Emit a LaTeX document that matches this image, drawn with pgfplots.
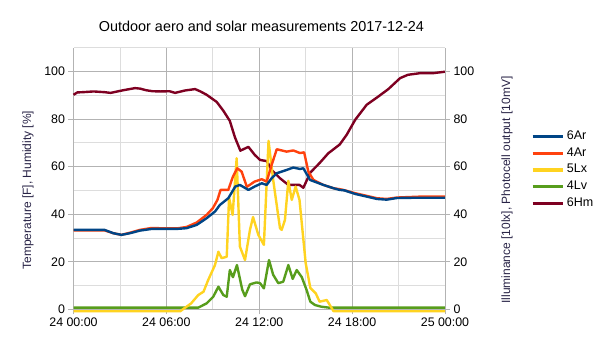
\documentclass[border=0pt]{standalone}
\usepackage{fontspec}
\setmainfont{Liberation Sans}
\usepackage{pgfplots}
\pgfplotsset{compat=1.18}
\definecolor{cAr}{HTML}{004586}
\definecolor{cAr4}{HTML}{FF420E}
\definecolor{cLx}{HTML}{FFD320}
\definecolor{cLv}{HTML}{579D1C}
\definecolor{cHm}{HTML}{7E0021}
\definecolor{gridmaj}{HTML}{B3B3B3}
\definecolor{gridmin}{HTML}{DDDDDD}
\definecolor{labcol}{RGB}{40,35,70}
\begin{document}
\begin{tikzpicture}
\path[use as bounding box] (0,0) rectangle (605pt,340pt);
\begin{axis}[
  at={(73.5pt,30.7pt)}, anchor=south west,
  scale only axis, width=371.5pt, height=261.6pt,
  xmin=0, xmax=24, ymin=0, ymax=110,
  clip=false,
  xtick={0,6,12,18,24},
  xticklabels={24 00:00,24 06:00,24 12:00,24 18:00,25 00:00},
  minor xtick={3,9,15,21},
  ytick={0,20,40,60,80,100},
  minor ytick={10,30,50,70,90,110},
  grid=both,
  major grid style={color=gridmaj, line width=0.8pt},
  minor grid style={color=gridmin, line width=0.8pt},
  axis x line*=bottom, axis y line*=left,
  axis line style={gridmaj, line width=0.8pt},
  tick align=outside, major tick length=5pt, minor tick length=0pt,
  tick style={gridmaj, line width=0.8pt},
  tick label style={font=\fontsize{12.4}{14}\selectfont},
  /pgf/number format/assume math mode=true,
  title={Outdoor aero and solar measurements 2017-12-24},
  title style={at={(axis description cs:0.506,1.058)}, anchor=center, font=\fontsize{14.4}{17}\selectfont},
  ylabel={Temperature [F], Humidity [\%]},
  ylabel style={at={(axis description cs:-0.1225,0.456)}, anchor=center, color=labcol, font=\fontsize{12}{14}\selectfont},
  legend style={at={(axis description cs:1.2307,0.5325)}, anchor=west, draw=none, fill=none, inner sep=0pt,
    font=\fontsize{12.5}{15}\selectfont, row sep=2.7pt, column sep=1.5pt,
    nodes={inner sep=1pt, text height=9pt, text depth=3pt}},
  legend cell align=left,
  reverse legend,
  legend image code/.code={\draw[#1, line width=3.5pt] (0pt,0pt) -- (30pt,0pt);},
  every axis plot/.append style={line width=2.4pt, line join=round, mark=none},
]
\addplot[cHm] coordinates {
(0,90.2) (0.25,91.2) (0.6,91.3) (1.3,91.6) (2.0,91.3) (2.4,91.0) (3.2,92.1) (3.97,93.0)
(4.3,92.8) (4.7,92.1) (5.1,91.7) (5.6,91.6) (6.2,91.7) (6.56,91.0) (7.2,92.0) (7.85,92.6)
(8.2,91.6) (8.6,90.2) (9.25,87.2) (9.68,83.5) (10.1,79.2) (10.43,72.3) (10.78,66.7)
(11.3,68.3) (11.7,65.0) (12.05,62.8) (12.5,62.3) (12.8,58.6) (13.34,55.1) (13.88,52.3)
(14.6,52.3) (14.85,51.1) (15.3,57.5) (15.9,61.5) (16.46,65.6) (17.2,69.3) (17.65,73.4)
(18.2,79.7) (18.94,86.0) (19.7,89.5) (20.34,92.6) (21.1,97.2) (21.6,98.6) (22.4,99.3)
(23.24,99.3) (24,99.9)
};
\addlegendentry{6Hm}
\addplot[cLv] coordinates {
(0,0.7) (8.06,0.7) (8.6,2.5) (9.03,5.3) (9.36,9.5) (9.68,6.0) (9.9,5.3) (10.1,16.5)
(10.3,13.5) (10.56,18.6) (10.9,8.3) (11.08,5.5) (11.4,10.5) (11.83,11.3) (12.05,11.0)
(12.3,8.8) (12.63,20.7) (12.9,14.5) (13.23,11.0) (13.55,11.6) (13.88,18.6) (14.16,12.8)
(14.42,16.5) (14.75,13.5) (15.06,8.1) (15.3,3.2) (15.6,1.8) (16.0,1.1) (16.5,0.7) (24,0.7)
};
\addlegendentry{4Lv}
\addplot[cLx] coordinates {
(0,-0.8) (6.9,-0.8) (7.6,2.5) (8.06,6.0) (8.4,7.4) (8.7,12.3) (9.14,18.6) (9.36,24.2)
(9.57,21.5) (9.9,22.1) (10.05,47.0) (10.28,39.7) (10.54,63.5) (10.75,26.4) (11.08,20.7)
(11.4,33.4) (11.6,38.8) (11.94,31.3) (12.3,27.1) (12.6,70.8) (12.9,54.4) (13.34,34.1)
(13.45,33.4) (13.66,37.6) (13.88,54.0) (14.1,46.0) (14.35,51.6) (14.6,46.0) (15.0,19.4)
(15.3,9.0) (15.65,6.7) (15.9,3.2) (16.36,3.9) (16.8,-0.8) (24,-0.8)
};
\addlegendentry{5Lx}
\addplot[cAr4] coordinates {
(0,33.2) (2.0,33.2) (2.57,32.0) (3.1,31.3) (3.65,32.2) (4.3,33.4) (5.05,34.2) (6.0,34.0)
(6.67,34.0) (7.3,34.6) (7.96,36.5) (8.6,39.7) (9.0,42.5) (9.3,46.0) (9.5,50.2) (10.0,50.2)
(10.3,55.8) (10.58,59.3) (10.86,57.9) (11.2,51.5) (11.7,53.7) (12.16,54.7) (12.48,53.7)
(12.8,60.7) (13.13,67.3) (13.77,66.3) (14.2,66.8) (14.63,65.7) (14.9,66.0) (15.17,57.9)
(15.5,54.4) (16.14,52.3) (16.8,50.9) (17.2,50.5) (17.43,50.2) (18.2,48.8) (18.94,47.7)
(19.6,46.7) (20.23,46.4) (20.9,47.0) (21.7,47.2) (22.5,47.4) (24,47.4)
};
\addlegendentry{4Ar}
\addplot[cAr] coordinates {
(0,33.4) (2.0,33.4) (2.57,32.0) (3.1,31.3) (3.65,32.0) (4.3,33.1) (5.05,33.8) (6.0,33.8)
(6.67,33.8) (7.3,34.1) (7.96,35.5) (8.6,38.3) (9.14,41.1) (9.46,43.9) (10.0,46.7)
(10.45,51.6) (10.75,52.3) (11.3,50.2) (11.7,51.6) (12.16,53.0) (12.48,52.3) (12.8,55.1)
(13.13,57.2) (13.77,58.6) (14.2,59.6) (14.63,59.0) (14.85,59.3) (15.28,54.4) (16.14,52.3)
(16.8,50.9) (17.2,50.2) (17.5,50.0) (18.2,48.5) (18.94,47.4) (19.6,46.4) (20.23,46.1)
(20.9,46.8) (22,46.9) (24,46.9)
};
\addlegendentry{6Ar}
\end{axis}
\begin{axis}[
  at={(73.5pt,30.7pt)}, anchor=south west,
  scale only axis, width=371.5pt, height=261.6pt,
  xmin=0, xmax=24, ymin=0, ymax=110,
  axis x line=none, axis y line*=right,
  ytick={0,20,40,60,80,100},
  axis line style={gridmaj, line width=0.8pt},
  tick align=outside, major tick length=5pt,
  tick style={gridmaj, line width=0.8pt},
  tick label style={font=\fontsize{12.4}{14}\selectfont},
  /pgf/number format/assume math mode=true,
  ylabel={Illuminance [10lx], Photocell output [10mV]},
  ylabel style={at={(axis description cs:1.167,0.456)}, anchor=center, color=labcol, font=\fontsize{12}{14}\selectfont},
]
\addplot[draw=none] coordinates {(0,0)};
\end{axis}
\end{tikzpicture}
\end{document}
